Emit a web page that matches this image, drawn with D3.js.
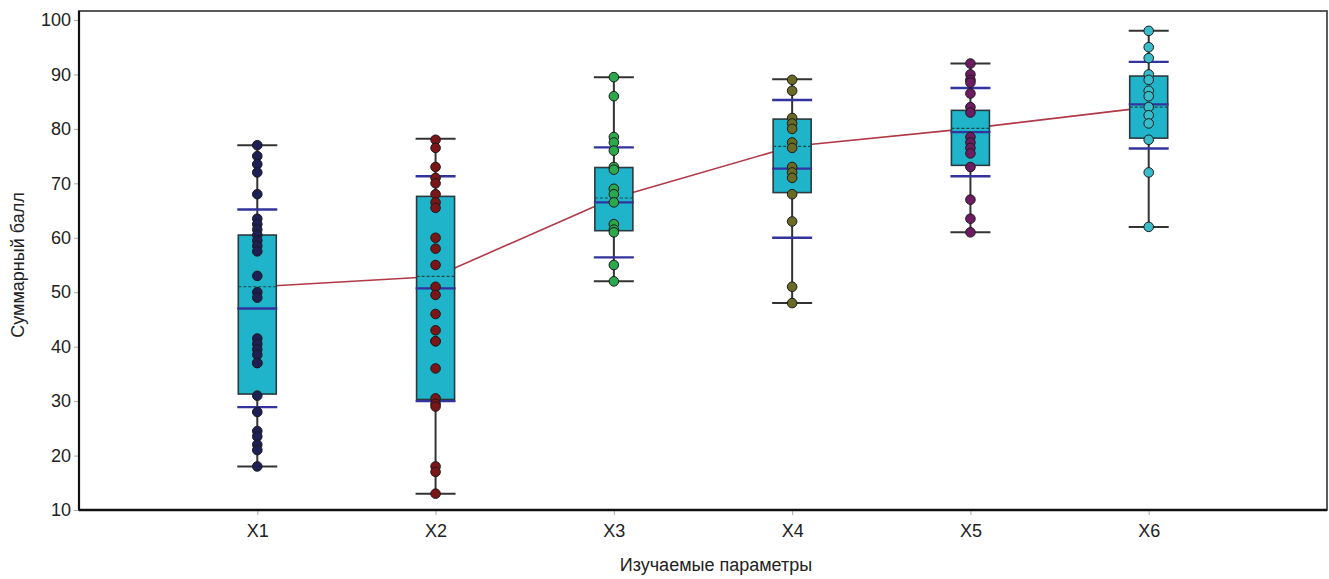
<!DOCTYPE html>
<html>
<head>
<meta charset="utf-8">
<script src="https://cdn.jsdelivr.net/npm/d3@7"></script>
<style>
  body { margin: 0; background: #fff; }
  svg text { font-family: "Liberation Sans", Arial, sans-serif; fill: #222; }
</style>
</head>
<body>
<div id="chart"></div>
<script>
// Groups and raw scores
const groups = ['X1', 'X2', 'X3', 'X4', 'X5', 'X6'];

const scoresX1 = [77, 75, 73.5, 72, 68, 63.5, 62.5, 61.5, 60.5, 59.5, 58.5, 57.5, 53, 50, 49,
                  41.5, 40.5, 39.5, 38.5, 37, 37, 31, 28, 24.5, 23.5, 22, 21, 18];
const scoresX2 = [78, 76.5, 73, 71, 70, 68, 66.5, 65.5, 60, 58, 55, 51, 49.5, 46, 43, 41, 41,
                  36, 30.5, 29.5, 29, 18, 17, 13];
const scoresX3 = [89.5, 86, 78.5, 77.5, 76, 73, 72.5, 69, 68, 66.5, 62.5, 61.5, 61, 55, 52];
const scoresX4 = [89, 87, 82, 81, 80, 77.5, 76.5, 73, 72, 71, 68, 63, 51, 48];
const scoresX5 = [92, 90, 89, 88.5, 86.5, 84, 83, 78.5, 77.5, 76.5, 75.5, 73, 67, 63.5, 61];
const scoresX6 = [98, 95, 93, 90, 89, 87, 86, 84, 82.5, 81, 78, 72, 62];
const scores = [scoresX1, scoresX2, scoresX3, scoresX4, scoresX5, scoresX6];

// Box statistics as drawn
const minVals    = [18, 13, 52, 48, 61, 62];
const q1Vals     = [31.3, 30.3, 61.3, 68.3, 73.3, 78.3];
const medianVals = [47, 50.7, 66.5, 72.7, 79.4, 84.5];
const q3Vals     = [60.5, 67.6, 72.9, 81.8, 83.4, 89.7];
const maxVals    = [77, 78.2, 89.5, 89.1, 92, 98];
const meanVals   = [51, 52.9, 67.3, 76.8, 80.1, 84];
const p10Vals    = [28.9, 30, 56.4, 60, 71.3, 76.4];
const p90Vals    = [65.2, 71.3, 76.6, 85.3, 87.5, 92.3];

const pointColors = ['#1d1f55', '#7a1618', '#2aa84c', '#6a6a26', '#6e1c62', '#38bccb'];
const yTicks = [10, 20, 30, 40, 50, 60, 70, 80, 90, 100];

const W = 1329, H = 579;
const plot = { left: 79, right: 1327, top: 11, bottom: 510 };
const BOX_W = 38, CAP_W = 40;

const svg = d3.select('#chart').append('svg')
    .attr('width', W).attr('height', H);

const x = d3.scaleLinear().domain([0, 7]).range([plot.left, plot.right]);
const y = d3.scaleLinear().domain([10, 101.65]).range([plot.bottom, plot.top]);

// Axes
const yAxis = svg.append('g')
    .attr('transform', `translate(${plot.left},0)`)
    .call(d3.axisLeft(y).tickValues(yTicks).tickSize(5).tickPadding(3));
yAxis.select('.domain').remove();
yAxis.selectAll('line').attr('stroke', '#aaa');
yAxis.selectAll('text').style('font-size', '18px').attr('fill', '#222');

const xAxis = svg.append('g')
    .attr('transform', `translate(0,${plot.bottom})`)
    .call(d3.axisBottom(x).tickValues(d3.range(1, 7)).tickFormat(i => groups[i - 1])
        .tickSize(5).tickPadding(9));
xAxis.select('.domain').remove();
xAxis.selectAll('line').attr('stroke', '#aaa');
xAxis.selectAll('text').style('font-size', '18px').attr('fill', '#222');

// Frame
svg.append('rect')
    .attr('x', plot.left).attr('y', plot.top)
    .attr('width', plot.right - plot.left).attr('height', plot.bottom - plot.top)
    .attr('fill', 'none').attr('stroke', '#333').attr('stroke-width', 1.6);
svg.append('line')
    .attr('x1', plot.left).attr('x2', plot.right)
    .attr('y1', plot.bottom).attr('y2', plot.bottom)
    .attr('stroke', '#111').attr('stroke-width', 2.6);
svg.append('line')
    .attr('x1', plot.left).attr('x2', plot.left)
    .attr('y1', plot.top).attr('y2', plot.bottom)
    .attr('stroke', '#111').attr('stroke-width', 2.2);

// Axis titles
svg.append('text')
    .attr('x', 716).attr('y', 571)
    .attr('text-anchor', 'middle')
    .style('font-size', '18px')
    .text('Изучаемые параметры');
svg.append('text')
    .attr('transform', 'translate(24,265) rotate(-90)')
    .attr('text-anchor', 'middle')
    .style('font-size', '18px')
    .text('Суммарный балл');

const g = svg.append('g');
const idx = d3.range(groups.length);

// Mean line (behind boxes)
g.append('path')
    .datum(idx)
    .attr('fill', 'none')
    .attr('stroke', '#b23846')
    .attr('stroke-width', 1.6)
    .attr('d', d3.line().x(i => x(i + 1)).y(i => y(meanVals[i])));

// Whiskers
g.selectAll('.whisker')
    .data(idx).enter().append('line')
    .attr('x1', i => x(i + 1)).attr('x2', i => x(i + 1))
    .attr('y1', i => y(minVals[i])).attr('y2', i => y(maxVals[i]))
    .attr('stroke', '#333').attr('stroke-width', 2);

// Caps at min / max
[minVals, maxVals].forEach(vals => {
    g.selectAll(null)
        .data(idx).enter().append('line')
        .attr('x1', i => x(i + 1) - CAP_W / 2).attr('x2', i => x(i + 1) + CAP_W / 2)
        .attr('y1', i => y(vals[i])).attr('y2', i => y(vals[i]))
        .attr('stroke', '#333').attr('stroke-width', 2);
});

// Boxes
g.selectAll('.box')
    .data(idx).enter().append('rect')
    .attr('x', i => x(i + 1) - BOX_W / 2)
    .attr('y', i => y(q3Vals[i]))
    .attr('width', BOX_W)
    .attr('height', i => y(q1Vals[i]) - y(q3Vals[i]))
    .attr('fill', '#1fb4c9')
    .attr('stroke', '#2a3a40').attr('stroke-width', 1.6);

// Percentile lines and median (blue)
[p10Vals, p90Vals, medianVals].forEach(vals => {
    g.selectAll(null)
        .data(idx).enter().append('line')
        .attr('x1', i => x(i + 1) - CAP_W / 2).attr('x2', i => x(i + 1) + CAP_W / 2)
        .attr('y1', i => y(vals[i])).attr('y2', i => y(vals[i]))
        .attr('stroke', '#33339e').attr('stroke-width', 2.4);
});

// Dashed mean inside box
g.selectAll('.mean')
    .data(idx).enter().append('line')
    .attr('x1', i => x(i + 1) - BOX_W / 2).attr('x2', i => x(i + 1) + BOX_W / 2)
    .attr('y1', i => y(meanVals[i])).attr('y2', i => y(meanVals[i]))
    .attr('stroke', '#1f4a44').attr('stroke-width', 1.2)
    .attr('stroke-dasharray', '3,2');

// Individual scores
idx.forEach(i => {
    g.selectAll(null)
        .data(scores[i]).enter().append('circle')
        .attr('cx', x(i + 1))
        .attr('cy', d => y(d))
        .attr('r', 4.8)
        .attr('fill', pointColors[i])
        .attr('stroke', '#1a1a1a').attr('stroke-width', 1);
});
</script>
</body>
</html>
